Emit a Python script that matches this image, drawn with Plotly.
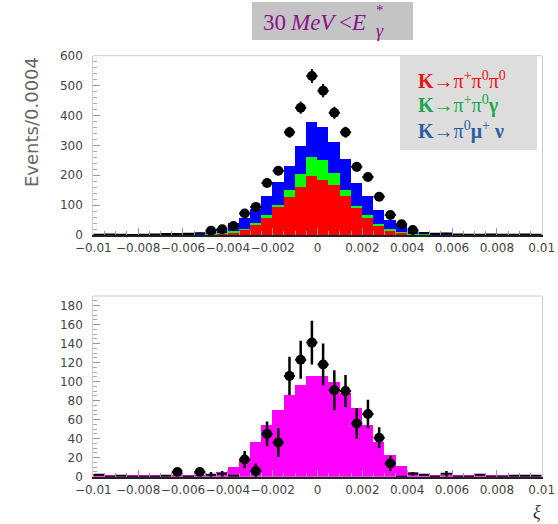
import plotly.graph_objects as go

W, H = 558, 524

# ---------------- data (40 bins of width 0.0005 from -0.01 to 0.01) ----------------
bin_lo = -0.01
bin_w = 0.0005
xi_centers = [round(bin_lo + bin_w * (i + 0.5), 6) for i in range(40)]

# top panel: stacked MC components
mc_k3pi = [0, 0, 0, 0, 0, 0, 0, 0, 1, 2, 4, 6, 11, 19, 37, 61, 94, 128, 161, 197,
           186, 167, 130, 91, 61, 34, 17, 8, 4, 2, 1, 0, 0, 0, 0, 0, 0, 0, 0, 0]
mc_pipigam = [0, 0, 0, 0, 0, 0, 0, 0, 0, 0, 1, 2, 2, 3, 3, 6, 7, 22, 45, 66,
              66, 41, 22, 7, 6, 5, 5, 3, 1, 1, 0, 1, 0, 0, 0, 0, 0, 0, 0, 0]
mc_kmu3 = [1, 1, 1, 1, 1, 2, 2, 4, 5, 7, 10, 14, 28, 36, 49, 63, 77, 83, 94, 117,
           110, 103, 104, 76, 63, 47, 30, 22, 13, 8, 5, 3, 2, 1, 1, 1, 1, 1, 1, 1]
data_top = [1, 2, 1, 0, 1, 2, 3, 3, 4, 6, 14, 19, 30, 72, 94, 174, 215, 344, 426, 532,
            483, 409, 344, 228, 194, 128, 67, 36, 17, 6, 4, 5, 2, 1, 1, 2, 1, 1, 2, 1]
data_top_err = [1, 1.4, 1, 0, 1, 1.4, 1.7, 1.7, 2, 2.4, 3.7, 4.4, 5.5, 8.5, 9.7, 13.2, 14.7, 18.5, 20.6, 23.1,
                22, 20.2, 18.5, 15.1, 13.9, 11.3, 8.2, 6, 4.1, 2.4, 2, 2.2, 1.4, 1, 1, 1.4, 1, 1, 1.4, 1]

# bottom panel: MC and background-subtracted data
mc_bottom = [1, 1, 1, 1, 1, 1, 1.5, 1.5, 2, 2, 2, 4.6, 10.5, 18, 37, 54, 70, 86, 96, 106,
             106, 100, 88, 72, 54, 37, 22.5, 11, 4.5, 3, 1.5, 1, 1, 1, 1, 1, 1, 1, 1, 1]
data_bot = [2, 0, 1, 0, 0, 0, 1, 5, 0, 5, 2, 3, 1, 18, 6, 45, 36, 106, 123, 141,
            118, 91, 90, 56, 66, 41, 14, 0, 3, 2, 0, 3, 0, 0, 2, 0, 0, 1, 1, 1]
data_bot_err = [0, 0, 0, 0, 0, 0, 0, 2, 0, 2, 3, 3, 0, 9, 8, 13, 15, 20, 20, 23,
                22, 21, 17, 16, 15, 11, 8, 0, 2, 0, 0, 3, 0, 0, 0, 0, 0, 0, 0, 0]

x_tickvals = [-0.01, -0.008, -0.006, -0.004, -0.002, 0, 0.002, 0.004, 0.006, 0.008, 0.01]
x_ticktext = ["\u22120.01", "\u22120.008", "\u22120.006", "\u22120.004", "\u22120.002", "0",
              "0.002", "0.004", "0.006", "0.008", "0.01"]

legend_lines = ["<b>K</b>\u2192\u03c0<sup>+</sup>\u03c0<sup>0</sup>\u03c0<sup>0</sup>",
                "<b>K</b>\u2192\u03c0<sup>+</sup>\u03c0<sup>0</sup><b>\u03b3</b>",
                "<b>K</b>\u2192\u03c0<sup>0</sup><b>\u03bc</b><sup>+</sup> <b>\u03bd</b>"]
legend_colors = ["#ee1111", "#18a848", "#2a5d9f"]

# title pieces: (text, left x px)
title_parts = [("30", 261), ("<i>MeV</i>", 288), ("&lt;", 337), ("<i>E</i>", 349)]

# ---------------- figure ----------------
fig = go.Figure()
half = [bin_w / 2] * 40

for vals, col in [(mc_k3pi, "#ff0000"), (mc_pipigam, "#00ff00"), (mc_kmu3, "#0000ff")]:
    fig.add_trace(go.Bar(x=xi_centers, y=vals, width=bin_w, marker=dict(color=col, line=dict(width=0)),
                         xaxis="x", yaxis="y", showlegend=False))

fig.add_trace(go.Scatter(x=xi_centers, y=data_top, mode="markers",
                         marker=dict(color="black", opacity=1, line=dict(width=0),
                                     size=[10 if v >= 10 else 0 for v in data_top]),
                         error_x=dict(type="data", array=half, color="black", thickness=2, width=0),
                         error_y=dict(type="data", array=data_top_err, color="black", thickness=2, width=0),
                         xaxis="x", yaxis="y", showlegend=False))

fig.add_trace(go.Bar(x=xi_centers, y=mc_bottom, width=bin_w, marker=dict(color="#ff00ff", line=dict(width=0)),
                     xaxis="x2", yaxis="y2", showlegend=False))
fig.add_trace(go.Scatter(x=xi_centers, y=data_bot, mode="markers",
                         marker=dict(color="black", opacity=1, line=dict(width=0),
                                     size=[10 if v >= 5 else 0 for v in data_bot]),
                         error_x=dict(type="data", array=half, color="black", thickness=2, width=0),
                         error_y=dict(type="data", array=data_bot_err, color="black", thickness=2.5, width=0),
                         xaxis="x2", yaxis="y2", showlegend=False))

xd = [93.3 / W, 541.7 / W]
top_dom = [1 - 235 / H, 1 - 55.7 / H]
bot_dom = [1 - 476.7 / H, 1 - 296 / H]

tickfont = dict(family="DejaVu Sans", size=12, color="#444444")

def xaxis(anchor, dom):
    return dict(domain=xd, anchor=anchor, range=[-0.01, 0.01], tickvals=x_tickvals, ticktext=x_ticktext,
                tickangle=0, automargin=False,
                ticks="inside", ticklen=7, tickcolor="#999999", tickwidth=1,
                minor=dict(dtick=0.0005, tick0=-0.01, ticks="inside", ticklen=4, tickcolor="#999999"),
                showline=True, linecolor="#222222", linewidth=2, showgrid=False, zeroline=False,
                tickfont=tickfont, ticklabelstandoff=1)

def yaxis(anchor, dom, rng, dtick, mdtick):
    return dict(domain=dom, anchor=anchor, range=rng, dtick=dtick, ticks="inside", ticklen=7,
                automargin=False,
                tickcolor="#999999", minor=dict(dtick=mdtick, ticks="inside", ticklen=4, tickcolor="#aaaaaa"),
                showline=True, linecolor="#cccccc", linewidth=1, mirror=True, showgrid=False,
                zeroline=False, tickfont=tickfont, ticklabelstandoff=7)

fig.update_layout(
    width=W, height=H, margin=dict(l=0, r=0, t=0, b=0, autoexpand=False),
    paper_bgcolor="white", plot_bgcolor="white",
    barmode="stack", bargap=0,
    xaxis=xaxis("y", top_dom),
    yaxis=yaxis("x", top_dom, [0, 600], 100, 20),
    xaxis2=xaxis("y2", bot_dom),
    yaxis2=yaxis("x2", bot_dom, [0, 190], 20, 5),
)

shapes = []
for yr in ["y domain", "y2 domain"]:
    xr = "x domain" if yr == "y domain" else "x2 domain"
    shapes.append(dict(type="line", xref=xr, yref=yr, x0=0, x1=1, y0=1, y1=1,
                       line=dict(color="#cccccc", width=1)))
shapes.append(dict(type="rect", xref="paper", yref="paper", x0=252 / W, x1=413 / W, y0=1 - 40 / H, y1=1 - 2 / H,
                   fillcolor="#c4c4c4", line=dict(width=0), layer="below"))
shapes.append(dict(type="rect", xref="paper", yref="paper", x0=400 / W, x1=537 / W, y0=1 - 150 / H, y1=1 - 56 / H,
                   fillcolor="#dddddd", line=dict(width=0), layer="above"))
fig.update_layout(shapes=shapes)

ann = []
purple = "#8a128a"
for t, xpx in title_parts:
    ann.append(dict(text=t, x=xpx / W, y=1 - 22 / H, xref="paper", yref="paper",
                    xanchor="left", yanchor="middle", showarrow=False,
                    font=dict(family="Liberation Serif", size=23, color=purple)))
ann.append(dict(text="*", x=380 / W, y=1 - 10 / H, xref="paper", yref="paper", xanchor="center", yanchor="middle",
                showarrow=False, font=dict(family="Liberation Serif", size=15, color=purple)))
ann.append(dict(text="<i>\u03b3</i>", x=380 / W, y=1 - 31 / H, xref="paper", yref="paper", xanchor="center",
                yanchor="middle", showarrow=False, font=dict(family="Liberation Serif", size=18, color=purple)))
for i, (t, c) in enumerate(zip(legend_lines, legend_colors)):
    ann.append(dict(text=t, x=416 / W, y=1 - (80 + 25 * i) / H, xref="paper", yref="paper", xanchor="left",
                    yanchor="middle", showarrow=False, font=dict(family="Liberation Serif", size=20, color=c)))
ann.append(dict(text="Events/0.0004", x=31 / W, y=1 - 122 / H, xref="paper", yref="paper", textangle=-90,
                xanchor="center", yanchor="middle", showarrow=False,
                font=dict(family="DejaVu Sans", size=18, color="#666666")))
ann.append(dict(text="<i>\u03be</i>", x=537 / W, y=1 - 512 / H, xref="paper", yref="paper", xanchor="center",
                yanchor="middle", showarrow=False, font=dict(family="Liberation Serif", size=18, color="#333333")))
fig.update_layout(annotations=ann)

fig.write_html("out.html")
